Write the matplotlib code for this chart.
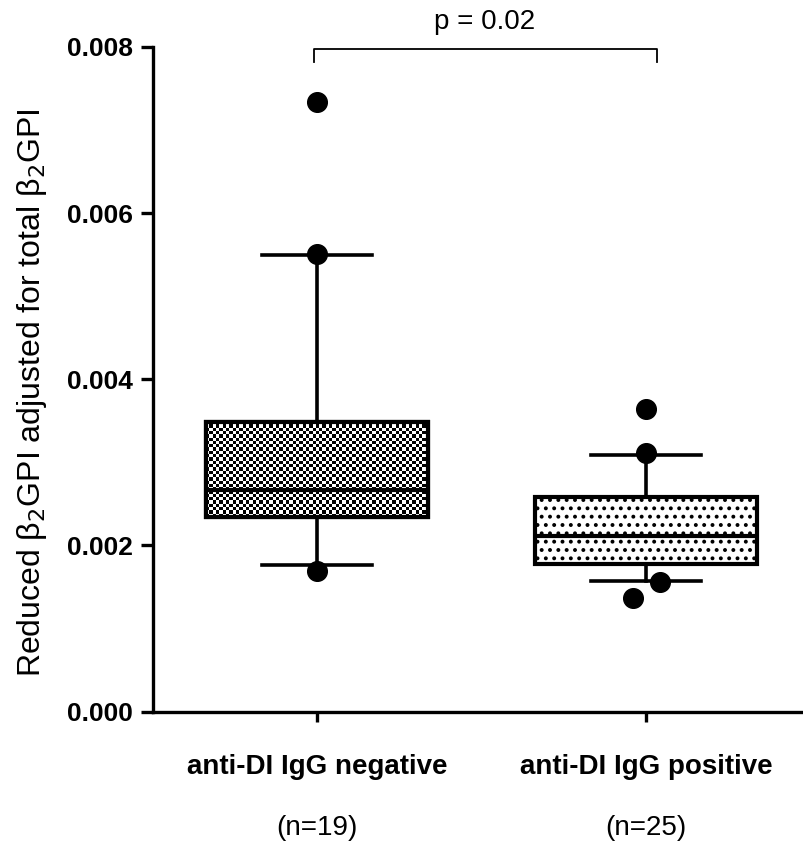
import numpy as np
import matplotlib
matplotlib.use("Agg")
import matplotlib.pyplot as plt
from matplotlib.patches import PathPatch

plt.rcParams['font.family'] = ['Liberation Sans', 'DejaVu Sans']
plt.rcParams['hatch.linewidth'] = 1.6

# data (10-90 percentile whiskers, points beyond)
groups = ['anti-DI IgG negative', 'anti-DI IgG positive']
n_counts = [19, 25]
q1 = [0.002346, 0.001777]
medians = [0.002667, 0.002114]
q3 = [0.003489, 0.002587]
whisker_lo = [0.001765, 0.001572]
whisker_hi = [0.005494, 0.003088]
outliers_neg = [0.007334, 0.005507, 0.001693]
outliers_pos = [0.003638, 0.003109, 0.001564, 0.001371]
jitter_neg = [0.0, 0.0, 0.0]
jitter_pos = [0.0, 0.0, 0.042, -0.04]
p_text = 'p = 0.02'

fig = plt.figure(figsize=(8.04, 8.41), dpi=100)
ax = fig.add_axes([0.19, 0.1537, 0.81, 0.7907])

stats = []
for i in range(len(groups)):
    stats.append({'med': medians[i], 'q1': q1[i], 'q3': q3[i],
                  'whislo': whisker_lo[i], 'whishi': whisker_hi[i],
                  'fliers': [], 'label': groups[i]})

lw = 3.0
bp = ax.bxp(stats, positions=[1, 2], widths=0.675, capwidths=0.334,
            patch_artist=True, showfliers=False,
            boxprops=dict(facecolor='white', edgecolor='black', linewidth=lw),
            whiskerprops=dict(color='black', linewidth=2.6),
            capprops=dict(color='black', linewidth=2.6),
            medianprops=dict(color='black', linewidth=lw))

ax.set_xlim(0.5, 2.48)
ax.set_ylim(0, 0.008)

# checkerboard fill for the first box
box1 = bp['boxes'][0]
ext = box1.get_path().get_extents()
(px0, py0), (px1, py1) = ax.transData.transform([[ext.x0, ext.y0], [ext.x1, ext.y1]])
ncol = int(round((px1 - px0) / 3.3))
nrow = int(round((py1 - py0) / 3.3))
checker = np.add.outer(np.arange(nrow), np.arange(ncol)) % 2
im = ax.imshow(checker, extent=(ext.x0, ext.x1, ext.y0, ext.y1), cmap='gray',
               interpolation='nearest', aspect='auto', zorder=2)
im.set_clip_path(box1)
ax.add_patch(PathPatch(box1.get_path(), fill=False, edgecolor='black',
                       linewidth=lw, zorder=2.2))
for med in bp['medians']:
    med.set_zorder(2.3)

# dotted fill for the second box
bp['boxes'][1].set_hatch('..')

ax.set_xlim(0.5, 2.48)
ax.set_ylim(0, 0.008)

# individual points
ax.scatter(1 + np.array(jitter_neg), outliers_neg, s=200, color='black', zorder=3, clip_on=False)
ax.scatter(2 + np.array(jitter_pos), outliers_pos, s=200, color='black', zorder=3, clip_on=False)

# significance bracket
ax.plot([0.99, 0.99, 2.033, 2.033], [0.00782, 0.00797, 0.00797, 0.00782],
        color='black', linewidth=1.3, clip_on=False)
ax.text(1.51, 0.0083, p_text, ha='center', va='center', fontsize=20)

ax.spines['top'].set_visible(False)
ax.spines['right'].set_visible(False)
ax.spines['left'].set_linewidth(2.4)
ax.spines['bottom'].set_linewidth(2.4)

ax.set_yticks([0, 0.002, 0.004, 0.006, 0.008])
ax.set_yticklabels(['%.3f' % v for v in [0, 0.002, 0.004, 0.006, 0.008]],
                   fontsize=19, fontweight='bold')
ax.set_xticks([1, 2])
ax.set_xticklabels(groups, fontsize=20, fontweight='bold')
ax.tick_params(axis='y', length=9, width=2.4, pad=5)
ax.tick_params(axis='x', length=7.5, width=2.4, pad=23)

for i, n in enumerate(n_counts):
    ax.text(i + 1, -0.175, '(n=%d)' % n, transform=ax.get_xaxis_transform(),
            ha='center', va='center', fontsize=20)

ax.set_ylabel('Reduced β$_2$GPI adjusted for total β$_2$GPI', fontsize=23)
ax.yaxis.set_label_coords(-0.16, 0.48)

fig.savefig('out.png', dpi=100)
